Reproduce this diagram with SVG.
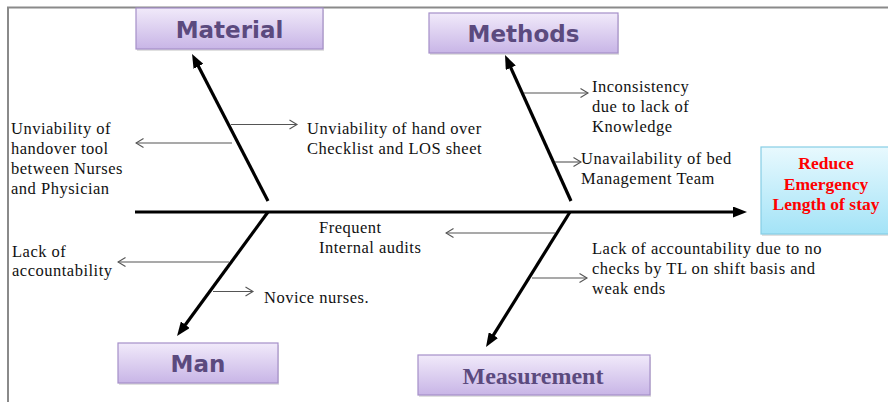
<svg xmlns="http://www.w3.org/2000/svg" width="888" height="402" viewBox="0 0 888 402">
<style>
.frame{stroke:#8a8a8a;stroke-width:2;fill:none}
.bone{stroke:#000;stroke-width:3.2;fill:none}
.sub{stroke:#555;stroke-width:1.1;fill:none}
.txt{font-family:"Liberation Serif","Times New Roman",serif;font-size:16.5px;letter-spacing:0.5px;fill:#111}
.cat{stroke:#a58fc9;stroke-width:1.2}
.catlbl{font-family:"DejaVu Sans",Verdana,sans-serif;font-weight:bold;font-size:23px;fill:#5b4a7e;text-anchor:middle}
.catlbl2{font-family:"Liberation Serif","Times New Roman",serif;font-weight:bold;font-size:24px;fill:#5b4a7e;text-anchor:middle}
.goal{font-family:"Liberation Serif","Times New Roman",serif;font-weight:bold;font-size:17.5px;fill:#ff0000;text-anchor:middle}
</style>
<defs>
<linearGradient id="gCat" x1="0" y1="0" x2="0" y2="1">
<stop offset="0" stop-color="#f1eafa"/>
<stop offset="1" stop-color="#c8b5e6"/>
</linearGradient>
<linearGradient id="gGoal" x1="0" y1="0" x2="0" y2="1">
<stop offset="0" stop-color="#e8f9fe"/>
<stop offset="1" stop-color="#a3e3f7"/>
</linearGradient>
<marker id="big" markerUnits="userSpaceOnUse" markerWidth="15" markerHeight="11" refX="8" refY="5.5" orient="auto">
<path d="M0,0 L14,5.5 L0,11 z" fill="#000"/>
</marker>
<marker id="open" markerUnits="userSpaceOnUse" markerWidth="10" markerHeight="12" refX="8.5" refY="6" orient="auto">
<path d="M1,1.5 L8.5,6 L1,10.5" fill="none" stroke="#555" stroke-width="1.1"/>
</marker>
</defs>
<rect width="888" height="402" fill="#fff"/>
<path class="frame" d="M8,402 V7.5 H888"/>

<g id="connectors">
<line class="bone" x1="135" y1="212" x2="741" y2="212" marker-end="url(#big)"/>
<line class="bone" x1="268" y1="201" x2="194.8" y2="59.3" marker-end="url(#big)"/>
<line class="bone" x1="571" y1="201" x2="507.5" y2="60.5" marker-end="url(#big)"/>
<line class="bone" x1="268" y1="212" x2="180.6" y2="331.2" marker-end="url(#big)"/>
<line class="bone" x1="570" y1="212" x2="489.2" y2="341.9" marker-end="url(#big)"/>
<line class="sub" x1="231" y1="124.5" x2="297" y2="124.5" marker-end="url(#open)"/>
<line class="sub" x1="232" y1="143" x2="136" y2="143" marker-end="url(#open)"/>
<line class="sub" x1="524" y1="93" x2="588" y2="93" marker-end="url(#open)"/>
<line class="sub" x1="555" y1="162" x2="581" y2="162" marker-end="url(#open)"/>
<line class="sub" x1="555" y1="233" x2="446" y2="233" marker-end="url(#open)"/>
<line class="sub" x1="532" y1="278" x2="587" y2="278" marker-end="url(#open)"/>
<line class="sub" x1="229" y1="262" x2="118" y2="262" marker-end="url(#open)"/>
<line class="sub" x1="213" y1="291.5" x2="253" y2="291.5" marker-end="url(#open)"/>
</g>

<g id="material">
<rect x="137" y="10" width="187" height="41" fill="#000" opacity="0.12"/>
<rect class="cat" x="136" y="8" width="187" height="41" fill="url(#gCat)"/>
<text class="catlbl" x="229.5" y="37.5">Material</text>
</g>
<g id="methods">
<rect x="430" y="15" width="189" height="40" fill="#000" opacity="0.12"/>
<rect class="cat" x="429" y="13" width="189" height="40" fill="url(#gCat)"/>
<text class="catlbl" x="523.5" y="42">Methods</text>
</g>
<g id="man">
<rect x="119" y="345" width="160" height="40" fill="#000" opacity="0.12"/>
<rect class="cat" x="118" y="343" width="160" height="40" fill="url(#gCat)"/>
<text class="catlbl" x="198" y="372">Man</text>
</g>
<g id="measurement">
<rect x="419" y="357" width="232" height="40" fill="#000" opacity="0.12"/>
<rect class="cat" x="418" y="355" width="232" height="40" fill="url(#gCat)"/>
<text class="catlbl2" x="533" y="384">Measurement</text>
</g>
<g id="goal">
<rect x="762" y="149" width="130" height="87" fill="#000" opacity="0.12"/>
<rect x="761" y="147" width="130" height="87" fill="url(#gGoal)" stroke="#86cde4" stroke-width="1.2"/>
<text class="goal" x="826" y="169">Reduce</text>
<text class="goal" x="826" y="189.5">Emergency</text>
<text class="goal" x="826" y="210">Length of stay</text>
</g>

<g id="cause-material-left">
<text class="txt" x="11" y="134">Unviability of</text>
<text class="txt" x="11" y="154">handover tool</text>
<text class="txt" x="11" y="174">between Nurses</text>
<text class="txt" x="11" y="194">and Physician</text>
</g>
<g id="cause-material-right">
<text class="txt" x="307" y="134">Unviability of hand over</text>
<text class="txt" x="307" y="154">Checklist and LOS sheet</text>
</g>
<g id="cause-methods-1">
<text class="txt" x="592" y="92">Inconsistency</text>
<text class="txt" x="592" y="112">due to lack of</text>
<text class="txt" x="592" y="132">Knowledge</text>
</g>
<g id="cause-methods-2">
<text class="txt" x="581" y="164">Unavailability of bed</text>
<text class="txt" x="581" y="184">Management Team</text>
</g>
<g id="cause-measurement-1">
<text class="txt" x="319" y="233">Frequent</text>
<text class="txt" x="319" y="253">Internal audits</text>
</g>
<g id="cause-measurement-2">
<text class="txt" x="592" y="254">Lack of accountability due to no</text>
<text class="txt" x="592" y="274">checks by TL on shift basis and</text>
<text class="txt" x="592" y="294">weak ends</text>
</g>
<g id="cause-man-1">
<text class="txt" x="12" y="257">Lack of</text>
<text class="txt" x="12" y="276">accountability</text>
</g>
<g id="cause-man-2">
<text class="txt" x="264" y="303">Novice nurses.</text>
</g>
</svg>
